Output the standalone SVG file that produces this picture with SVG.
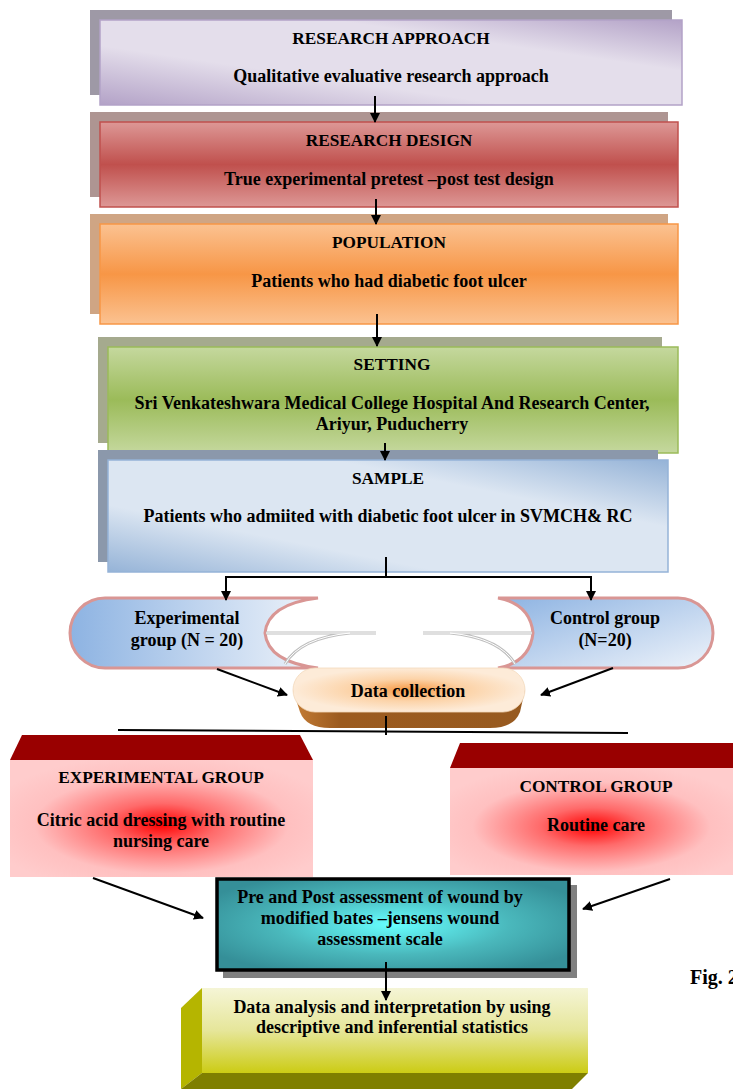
<svg xmlns="http://www.w3.org/2000/svg" width="733" height="1089" viewBox="0 0 733 1089">
<style>
.t{font-family:"Liberation Serif",serif;font-weight:bold;font-size:18px;fill:#000;text-anchor:middle}
.h{font-size:17.3px}
.c{stroke:#000;stroke-width:2;fill:none}
.cm{stroke:#000;stroke-width:2;fill:none;marker-end:url(#ah)}
</style>
<defs>
<marker id="ah" viewBox="0 0 10 10" refX="9" refY="5" markerWidth="5" markerHeight="5" orient="auto" markerUnits="strokeWidth">
<path d="M0,0 L10,5 L0,10 Z" fill="#000"/>
</marker>
<linearGradient id="g1" x1="0" y1="1" x2="1" y2="0">
<stop offset="0" stop-color="#b3a2c7"/><stop offset="0.35" stop-color="#e4deeb"/><stop offset="0.7" stop-color="#e4deeb"/><stop offset="1" stop-color="#b3a2c7"/>
</linearGradient>
<linearGradient id="g2" x1="0" y1="0" x2="0" y2="1">
<stop offset="0" stop-color="#dd9896"/><stop offset="0.5" stop-color="#c0504d"/><stop offset="1" stop-color="#dd9896"/>
</linearGradient>
<linearGradient id="g3" x1="0" y1="0" x2="0" y2="1">
<stop offset="0" stop-color="#fbc291"/><stop offset="0.5" stop-color="#f79646"/><stop offset="1" stop-color="#fbc291"/>
</linearGradient>
<linearGradient id="g4" x1="0" y1="0" x2="0" y2="1">
<stop offset="0" stop-color="#c5d89e"/><stop offset="0.5" stop-color="#9bbb59"/><stop offset="1" stop-color="#c5d89e"/>
</linearGradient>
<linearGradient id="g5" x1="0" y1="1" x2="1" y2="0">
<stop offset="0" stop-color="#95b3d7"/><stop offset="0.3" stop-color="#dce6f2"/><stop offset="0.7" stop-color="#dce6f2"/><stop offset="1" stop-color="#95b3d7"/>
</linearGradient>
<linearGradient id="gL" x1="0" y1="0" x2="1" y2="0">
<stop offset="0" stop-color="#8db3e2"/><stop offset="1" stop-color="#eef3fa"/>
</linearGradient>
<linearGradient id="gR" x1="0" y1="0" x2="1" y2="1">
<stop offset="0" stop-color="#8db3e2"/><stop offset="1" stop-color="#eef3fa"/>
</linearGradient>
<radialGradient id="gD" cx="0.5" cy="0.5" r="0.5">
<stop offset="0" stop-color="#f79a45"/><stop offset="0.5" stop-color="#fcd3a8"/><stop offset="1" stop-color="#fdebd8"/>
</radialGradient>
<linearGradient id="gDb" x1="0" y1="0" x2="1" y2="0">
<stop offset="0" stop-color="#c57d36"/><stop offset="0.2" stop-color="#9c5b1f"/><stop offset="1" stop-color="#975a20"/>
</linearGradient>
<radialGradient id="gP" cx="0.5" cy="0.55" r="0.6">
<stop offset="0" stop-color="#ff0000"/><stop offset="0.3" stop-color="#ff6a6a"/><stop offset="0.7" stop-color="#ffc0c0"/><stop offset="1" stop-color="#ffcccc"/>
</radialGradient>
<radialGradient id="gT" cx="0.5" cy="0.5" r="0.6">
<stop offset="0" stop-color="#66ffff"/><stop offset="0.55" stop-color="#4ab8bc"/><stop offset="1" stop-color="#358f98"/>
</radialGradient>
<linearGradient id="gY" x1="0" y1="0" x2="0" y2="1">
<stop offset="0" stop-color="#f5f5d6"/><stop offset="0.5" stop-color="#e6e69a"/><stop offset="1" stop-color="#cccc14"/>
</linearGradient>
</defs>
<rect width="733" height="1089" fill="#fff"/>

<g id="research-approach">
<rect x="90" y="10" width="582" height="85" fill="#9e99a6"/>
<rect x="100" y="20" width="582" height="85" fill="url(#g1)" stroke="#b3a2c7" stroke-width="1.5"/>
<text class="t h" x="391" y="44">RESEARCH APPROACH</text>
<text class="t" x="391" y="82">Qualitative evaluative research approach</text>
</g>

<g id="research-design">
<rect x="90" y="112" width="578" height="85" fill="#ae9592"/>
<rect x="100" y="122" width="578" height="85" fill="url(#g2)" stroke="#c0504d" stroke-width="1.5"/>
<text class="t h" x="389" y="146">RESEARCH DESIGN</text>
<text class="t" x="389" y="185">True experimental pretest –post test design</text>
</g>

<g id="population">
<rect x="90" y="214" width="578" height="100" fill="#cfa584"/>
<rect x="100" y="224" width="578" height="100" fill="url(#g3)" stroke="#f79646" stroke-width="1.5"/>
<text class="t h" x="389" y="248">POPULATION</text>
<text class="t" x="389" y="287">Patients who had diabetic foot ulcer</text>
</g>

<g id="setting">
<rect x="98" y="337" width="564" height="106" fill="#a5aa8e"/>
<rect x="108" y="347" width="570" height="106" fill="url(#g4)" stroke="#9bbb59" stroke-width="1.5"/>
<text class="t h" x="392" y="370">SETTING</text>
<text class="t" x="392" y="409">Sri Venkateshwara Medical College Hospital And Research Center,</text>
<text class="t" x="392" y="430">Ariyur, Puducherry</text>
</g>

<g id="sample">
<rect x="98" y="450" width="560" height="112" fill="#8b98ab"/>
<rect x="108" y="460" width="560" height="112" fill="url(#g5)" stroke="#95b3d7" stroke-width="1.5"/>
<text class="t h" x="388" y="484">SAMPLE</text>
<text class="t" x="388" y="522">Patients who admiited with diabetic foot ulcer in SVMCH&amp; RC</text>
</g>

<g id="experimental-group">
<path d="M105,598 L318,598 Q268,604 265,633 Q268,662 318,668 L105,668 A35,35 0 0 1 105,598 Z" fill="url(#gL)" stroke="#d99694" stroke-width="3"/>
<path d="M266,633 L376,633 M285,664 Q300,638 350,633" fill="none" stroke="#bfbfbf" stroke-width="3"/>
<path d="M266,633 L376,633 M285,664 Q300,638 350,633" fill="none" stroke="#fff" stroke-width="1"/>
<text class="t" x="187" y="624">Experimental</text>
<text class="t" x="187" y="646">group (N = 20)</text>
</g>

<g id="control-group">
<path d="M498,598 L678,598 A35,35 0 0 1 678,668 L498,668 Q530,662 533,633 Q530,604 498,598 Z" fill="url(#gR)" stroke="#d99694" stroke-width="3"/>
<path d="M423,633 L532,633 M515,664 Q500,638 450,633" fill="none" stroke="#bfbfbf" stroke-width="3"/>
<path d="M423,633 L532,633 M515,664 Q500,638 450,633" fill="none" stroke="#fff" stroke-width="1"/>
<text class="t" x="605" y="624">Control group</text>
<text class="t" x="605" y="646">(N=20)</text>
</g>

<g id="data-collection">
<path d="M293,690 L300,712 Q306,728 330,728 L490,728 Q514,728 520,712 L525,690 Z" fill="url(#gDb)"/>
<rect x="293" y="668" width="232" height="44" rx="22" ry="22" fill="url(#gD)" stroke="#f3d9bd" stroke-width="0.8"/>
<text class="t" x="408" y="697">Data collection</text>
</g>

<g id="experimental-arm">
<polygon points="10,760 22,735 300,735 313,760" fill="#990000"/>
<rect x="10" y="760" width="303" height="117" fill="url(#gP)"/>
<text class="t h" x="161" y="783">EXPERIMENTAL GROUP</text>
<text class="t" x="161" y="826">Citric acid dressing  with routine</text>
<text class="t" x="161" y="847">nursing care</text>
</g>

<g id="control-arm">
<polygon points="450,768 460,743 733,743 733,768" fill="#990000"/>
<rect x="450" y="768" width="283" height="107" fill="url(#gP)"/>
<text class="t h" x="596" y="792">CONTROL GROUP</text>
<text class="t" x="596" y="831">Routine care</text>
</g>

<g id="assessment">
<rect x="223" y="885" width="354" height="93" fill="#808080"/>
<rect x="217" y="879" width="352" height="91" fill="url(#gT)" stroke="#000" stroke-width="3.5"/>
<text class="t" x="380" y="903">Pre and Post assessment of wound by</text>
<text class="t" x="380" y="924">modified bates –jensens wound</text>
<text class="t" x="380" y="945">assessment scale</text>
</g>

<g id="analysis">
<polygon points="181,1008 202,988 202,1073 181,1089" fill="#b5b500"/>
<polygon points="181,1089 202,1073 588,1073 572,1089" fill="#7f7f00"/>
<rect x="202" y="988" width="386" height="85" fill="url(#gY)"/>
<text class="t" x="392" y="1013">Data analysis and interpretation by using</text>
<text class="t" x="392" y="1033">descriptive and inferential statistics</text>
</g>

<g id="caption">
<text x="690" y="984" style="font-family:'Liberation Serif',serif;font-weight:bold;font-size:20px">Fig. 2</text>
</g>

<g id="connectors">
<line class="cm" x1="375" y1="96" x2="375" y2="122"/>
<line class="cm" x1="376" y1="199" x2="376" y2="224"/>
<line class="cm" x1="377" y1="314" x2="377" y2="346"/>
<line class="cm" x1="385" y1="443" x2="385" y2="460"/>
<line class="c" x1="386" y1="557" x2="386" y2="577" stroke-width="1"/>
<polyline class="c" points="226,599 226,577 591,577 591,599" stroke-width="1.5"/>
<line class="cm" x1="226" y1="577" x2="226" y2="600"/>
<line class="cm" x1="591" y1="577" x2="591" y2="600"/>
<line class="cm" x1="217" y1="669" x2="287" y2="695"/>
<line class="cm" x1="613" y1="668" x2="541" y2="695"/>
<line class="c" x1="386" y1="716" x2="386" y2="735" stroke-width="1"/>
<line class="c" x1="118" y1="730" x2="628" y2="733" stroke="#333" stroke-width="1.5"/>
<line class="cm" x1="93" y1="878" x2="203" y2="918"/>
<line class="cm" x1="670" y1="879" x2="583" y2="909"/>
<line class="cm" x1="386" y1="962" x2="386" y2="1000"/>
</g>
</svg>
